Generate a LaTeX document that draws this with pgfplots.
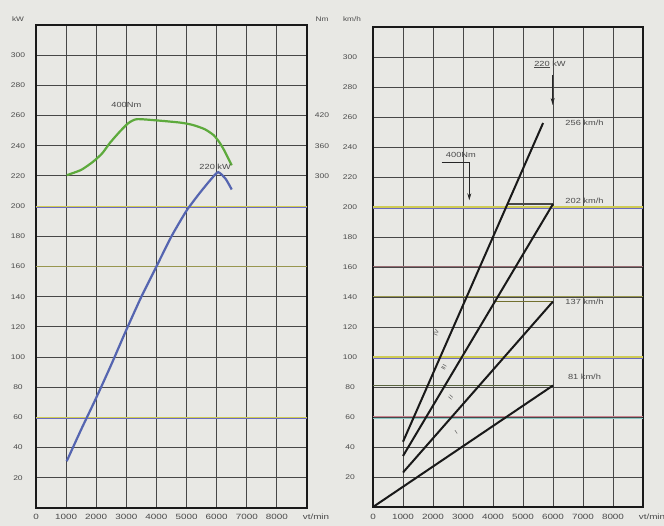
\documentclass[border=0pt]{standalone}
\usepackage{pgfplots}
\pgfplotsset{compat=1.18}
\usepackage{fontspec}
\setmainfont{Liberation Sans}
\newfontfamily\tickfont[FakeStretch=1.25]{Liberation Sans}
\newfontfamily\xtickfont[FakeStretch=1.3]{Liberation Sans}
\usetikzlibrary{arrows.meta}
\definecolor{paper}{HTML}{E8E8E4}
\definecolor{gridc}{HTML}{474747}
\definecolor{labc}{HTML}{4A4A4A}
\definecolor{torq}{HTML}{5DAA3C}
\definecolor{powc}{HTML}{5565B0}
\definecolor{yel}{HTML}{CFCB55}
\definecolor{blu}{HTML}{6A6AC0}
\definecolor{pnk}{HTML}{C98490}
\definecolor{cya}{HTML}{8CC8C4}
\definecolor{olv}{HTML}{5A6440}

\tikzset{ann/.style={font=\tickfont\fontsize{7.4}{8}\selectfont, text=labc}}

\pgfplotstableread{
rpm kw
1020 220.5
1500 224
1900 229.5
2200 235
2460 242
2790 249.5
3070 255
3350 257.6
4000 256.8
4800 255.3
5200 253.8
5600 251
5900 247
6100 242
6250 237
6400 231
6500 227
}\torque

\pgfplotstableread{
rpm kw
1020 31
1500 52
2000 73
2500 95
3000 118
3500 140
4000 160
4500 180
5000 197
5450 209
5800 217.5
6050 222.5
6300 218
6500 211
}\power

\pgfplotsset{
  common/.style={
    scale only axis,
    xmin=0, xmax=9000, ymin=0, ymax=320,
    xtick={0,1000,...,9000},
    xticklabels={0,1000,2000,3000,4000,5000,6000,7000,8000,{\hspace*{18pt}vt/min}},
    ytick={20,40,...,300},
    yticklabels={20,40,60,80,100,120,140,160,180,200,220,240,260,280,300},
    grid=major,
    major grid style={draw=gridc, line width=0.95pt},
    major tick length=0pt,
    axis line style={draw=black!90, line width=2.4pt},
    yticklabel style={font=\tickfont\fontsize{6.8}{7}\selectfont, text=labc},
    xticklabel style={font=\xtickfont\fontsize{7.6}{8}\selectfont, text=labc},
    xticklabel style={anchor=center},
    yticklabel style={anchor=center},
    clip=false,
  },
}

\begin{document}
\begin{tikzpicture}[x=1pt,y=1pt]
\useasboundingbox (0,0) rectangle (664,526);
\clip (0,0) rectangle (664,526);
\fill[paper] (0,0) rectangle (664,526);

% ---------------- left: power / torque ----------------
\begin{axis}[common,
  at={(36pt,18pt)}, anchor=south west,
  width=271pt, height=483pt,
  xticklabel style={yshift=-9pt},
  yticklabel style={xshift=-18pt},
]
\draw[yel, line width=1.1pt] (axis cs:0,200) -- (axis cs:9000,200);
\draw[blu, line width=0.6pt, yshift=-0.9pt] (axis cs:0,200) -- (axis cs:9000,200);
\draw[yel, line width=1.1pt] (axis cs:0,60) -- (axis cs:9000,60);
\draw[blu, line width=0.6pt, yshift=-0.9pt] (axis cs:0,60) -- (axis cs:9000,60);
\draw[yel!60!gridc, line width=1pt] (axis cs:0,160) -- (axis cs:9000,160);
\addplot[torq, line width=2.2pt, smooth, tension=0.4] table[x=rpm, y=kw] {\torque};
\addplot[powc, line width=2.2pt, smooth, tension=0.35] table[x=rpm, y=kw] {\power};
\node[ann] at (axis cs:3000,267) {400Nm};
\node[ann] at (axis cs:5950,226) {220 kW};
\end{axis}

% Nm scale on the right of the left chart
\begin{axis}[
  scale only axis,
  at={(36pt,18pt)}, anchor=south west,
  width=271pt, height=483pt,
  xmin=0, xmax=9000, ymin=0, ymax=320,
  hide x axis,
  axis y line*=right,
  y axis line style={draw=none},
  major tick length=0pt,
  ytick={220,240,260},
  yticklabels={300,360,420},
  yticklabel style={anchor=center, xshift=15pt, font=\tickfont\fontsize{6.8}{7}\selectfont, text=labc},
]
\end{axis}

% ---------------- right: road speed ----------------
\begin{axis}[common,
  at={(373pt,19pt)}, anchor=south west,
  width=270pt, height=480pt,
  xticklabel style={yshift=-10pt},
  yticklabel style={xshift=-23pt},
]
\draw[yel, line width=1.1pt] (axis cs:0,200) -- (axis cs:9000,200);
\draw[blu, line width=0.6pt, yshift=-0.9pt] (axis cs:0,200) -- (axis cs:9000,200);
\draw[yel, line width=1.1pt] (axis cs:0,100) -- (axis cs:9000,100);
\draw[blu, line width=0.6pt, yshift=-0.9pt] (axis cs:0,100) -- (axis cs:9000,100);
\draw[pnk, line width=1pt] (axis cs:0,60) -- (axis cs:9000,60);
\draw[cya, line width=0.6pt, yshift=-0.9pt] (axis cs:0,60) -- (axis cs:9000,60);
\draw[pnk!60!gridc, line width=1pt] (axis cs:0,160) -- (axis cs:9000,160);
\draw[yel!60!gridc, line width=1pt] (axis cs:0,140) -- (axis cs:9000,140);
% max-speed reference lines
\addplot[olv, line width=1.3pt] coordinates {(0,81) (6000,81)};
\addplot[yel!55!black, line width=1.1pt] coordinates {(4065,137) (6000,137)};
\addplot[gridc, line width=1.1pt] coordinates {(4500,202) (6000,202)};
% gear lines
\addplot[black!90, line width=2pt] coordinates {(1000,43.5) (5670,256)};
\addplot[black!90, line width=2pt] coordinates {(1000,34) (6000,202)};
\addplot[black!90, line width=2pt] coordinates {(1000,23) (6000,137)};
\addplot[black!90, line width=2pt] coordinates {(0,0) (6000,81)};
% speed labels
\node[ann] at (axis cs:7050,256) {256 km/h};
\node[ann] at (axis cs:7050,204) {202 km/h};
\node[ann] at (axis cs:7050,137) {137 km/h};
\node[ann] at (axis cs:7050,87) {81 km/h};
% gear numerals
\node[font=\fontsize{6}{6}\selectfont, text=labc, inner sep=0pt, rotate=66] at (axis cs:2110,116) {IV};
\node[font=\fontsize{6}{6}\selectfont, text=labc, inner sep=0pt, rotate=59] at (axis cs:2360,93) {III};
\node[font=\fontsize{6}{6}\selectfont, text=labc, inner sep=0pt, rotate=49] at (axis cs:2590,73) {II};
\node[font=\fontsize{6}{6}\selectfont, text=labc, inner sep=0pt, rotate=34] at (axis cs:2770,50) {I};
% 220 kW arrow
\node[ann] at (axis cs:5900,295) {\underline{220} kW};
\draw[black!85, line width=0.9pt, -{Stealth[length=7pt,width=4pt]}] (axis cs:5990,288) -- (axis cs:5990,268);
% 400 Nm arrow
\node[ann] at (axis cs:2930,234.5) {400Nm};
\draw[black!85, line width=0.8pt, -{Stealth[length=7pt,width=4pt]}] (axis cs:2290,229.5) -- (axis cs:3210,229.5) -- (axis cs:3210,204.5);
\end{axis}

% unit labels
\node[font=\tickfont\fontsize{6.6}{7}\selectfont, text=labc] at (18,507) {kW};
\node[font=\tickfont\fontsize{6.6}{7}\selectfont, text=labc] at (322,507) {Nm};
\node[font=\tickfont\fontsize{6.6}{7}\selectfont, text=labc] at (352,507) {km/h};
\end{tikzpicture}
\end{document}
